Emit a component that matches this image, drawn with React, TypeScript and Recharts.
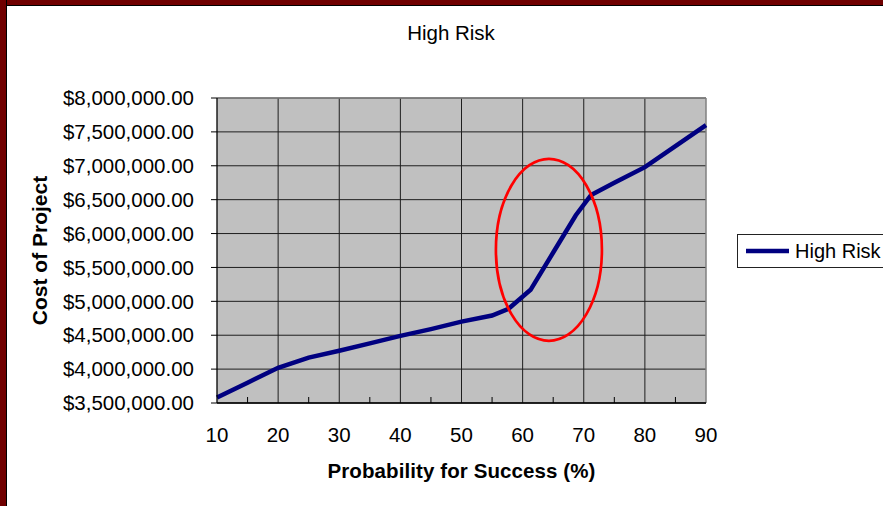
import React from 'react';
import {
  LineChart,
  Line,
  XAxis,
  YAxis,
  CartesianGrid,
  ReferenceLine,
  ReferenceDot,
  Legend,
} from 'recharts';

const probability = [10, 15, 20, 25, 30, 35, 40, 45, 50, 55, 57.7, 61.3, 65, 68.7, 71.2, 75, 80, 85, 90];
const cost = [
  3580000, 3800000, 4020000, 4170000, 4270000, 4380000, 4490000, 4590000, 4700000, 4790000,
  4890000, 5170000, 5720000, 6270000, 6570000, 6750000, 6980000, 7290000, 7600000,
];
const xTicks = [10, 15, 20, 25, 30, 35, 40, 45, 50, 55, 60, 65, 70, 75, 80, 85, 90];
const xGrid = [20, 30, 40, 50, 60, 70, 80];
const yTicks = [3500000, 4000000, 4500000, 5000000, 5500000, 6000000, 6500000, 7000000, 7500000, 8000000];
const highlight = { x: 64.3, y: 5760000 };

const data = probability.map((p, i) => ({ p, cost: cost[i] }));

const FONT = '"Liberation Sans", Arial, sans-serif';

const fmtMoney = (v: number) =>
  '$' + v.toLocaleString('en-US', { minimumFractionDigits: 2, maximumFractionDigits: 2 });

const XTick = (props: any) => {
  const { x, y, payload } = props;
  const v = payload.value;
  if (v % 10 === 0) {
    return (
      <text x={x} y={y} dy="0.71em" textAnchor="middle" fill="#000" fontSize={20.5} fontFamily={FONT}>
        {v}
      </text>
    );
  }
  return <line x1={x} x2={x} y1={y - 24} y2={y - 30} stroke="#000" strokeWidth={1} />;
};

const LegendContent = () => (
  <div
    style={{
      width: 160,
      height: 34,
      border: '1px solid #222',
      background: '#fff',
      display: 'flex',
      alignItems: 'center',
      fontFamily: FONT,
      fontSize: 20,
      color: '#000',
      boxSizing: 'border-box',
    }}
  >
    <svg width={57} height={32} style={{ display: 'block' }}>
      <line x1={8} x2={51} y1={16} y2={16} stroke="#000080" strokeWidth={4.5} />
    </svg>
    <span style={{ whiteSpace: 'nowrap' }}>High Risk</span>
  </div>
);

export default function App() {
  return (
    <div
      style={{
        position: 'absolute',
        left: 0,
        top: 0,
        width: 883,
        height: 506,
        overflow: 'hidden',
        background: '#fff',
        fontFamily: FONT,
      }}
    >
      <LineChart
        width={883}
        height={506}
        data={data}
        margin={{ top: 98, right: 177, left: 0, bottom: 0 }}
      >
        <CartesianGrid vertical={false} stroke="#1e1e1e" fill="#C0C0C0" fillOpacity={1} />
        <XAxis
          dataKey="p"
          type="number"
          domain={[10, 90]}
          ticks={xTicks}
          interval={0}
          tickLine={false}
          tickSize={0}
          tickMargin={24}
          tick={<XTick />}
          axisLine={{ stroke: '#000', strokeWidth: 1.3 }}
          height={103}
          label={{
            value: 'Probability for Success (%)',
            position: 'insideBottom',
            offset: 28,
            fill: '#000',
            fontSize: 20.5,
            fontWeight: 'bold',
            fontFamily: FONT,
            letterSpacing: 0.1,
          }}
        />
        <YAxis
          type="number"
          domain={[3500000, 8000000]}
          ticks={yTicks}
          interval={0}
          width={217}
          tickSize={6}
          tickMargin={17}
          tickFormatter={fmtMoney}
          tick={{ fill: '#000', fontSize: 20.5, fontFamily: FONT }}
          tickLine={{ stroke: '#000' }}
          axisLine={{ stroke: '#000', strokeWidth: 1.3 }}
          label={{
            value: 'Cost of Project',
            angle: -90,
            position: 'insideLeft',
            offset: 40,
            fill: '#000',
            fontSize: 21,
            fontWeight: 'bold',
            fontFamily: FONT,
            style: { textAnchor: 'middle' },
          }}
        />
        {xGrid.map((g) => (
          <ReferenceLine key={g} x={g} stroke="#1e1e1e" strokeWidth={1} />
        ))}
        <ReferenceLine y={8000000} stroke="#808080" strokeWidth={1.5} />
        <ReferenceLine x={90} stroke="#808080" strokeWidth={1.5} />
        <Line
          type="linear"
          dataKey="cost"
          name="High Risk"
          stroke="#000080"
          strokeWidth={4.5}
          dot={false}
          activeDot={false}
          isAnimationActive={false}
        />
        <ReferenceDot
          x={highlight.x}
          y={highlight.y}
          shape={(p: any) => (
            <ellipse cx={p.cx} cy={p.cy} rx={53} ry={91} fill="none" stroke="#FF0000" strokeWidth={2.7} />
          )}
        />
        <Legend
          layout="horizontal"
          verticalAlign="middle"
          align="center"
          content={<LegendContent />}
          wrapperStyle={{ left: 737, top: 234, width: 160, height: 34 }}
        />
      </LineChart>
      <div
        style={{
          position: 'absolute',
          left: 351,
          top: 23,
          width: 200,
          textAlign: 'center',
          fontSize: 20.5,
          lineHeight: '20px',
          fontFamily: FONT,
          color: '#000',
        }}
      >
        High Risk
      </div>
      <div
        style={{
          position: 'absolute',
          left: 0,
          top: 0,
          width: 883,
          height: 5,
          background: '#700000',
          borderBottom: '1px solid #000',
        }}
      />
      <div
        style={{
          position: 'absolute',
          left: 0,
          top: 0,
          width: 6,
          height: 506,
          background: '#700000',
          borderRight: '1px solid #000',
        }}
      />
    </div>
  );
}
